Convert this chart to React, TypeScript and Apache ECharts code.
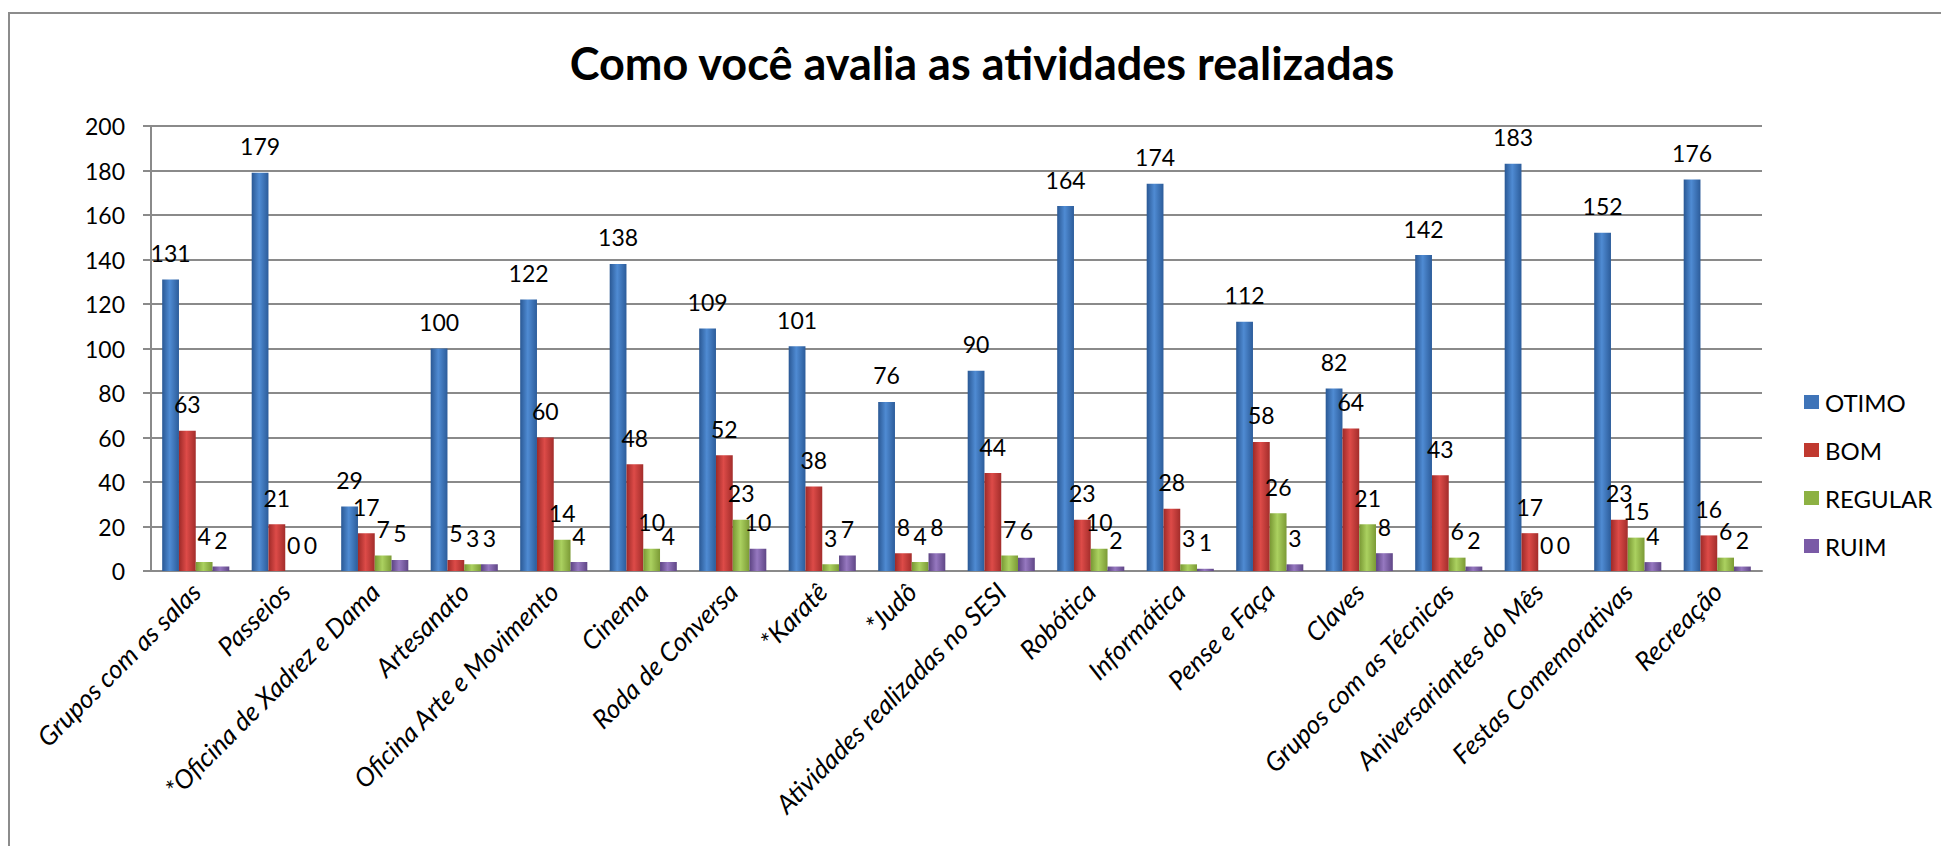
import React, { useEffect, useRef } from "react";
import * as echarts from "echarts";

const categories = [
  "Grupos com as salas",
  "Passeios",
  "*Oficina de Xadrez e Dama",
  "Artesanato",
  "Oficina Arte e Movimento",
  "Cinema",
  "Roda de Conversa",
  "*Karatê",
  "*Judô",
  "Atividades realizadas no SESI",
  "Robótica",
  "Informática",
  "Pense e Faça",
  "Claves",
  "Grupos com as Técnicas",
  "Aniversariantes do Mês",
  "Festas Comemorativas",
  "Recreação",
];

const otimo = [131, 179, 29, 100, 122, 138, 109, 101, 76, 90, 164, 174, 112, 82, 142, 183, 152, 176];
const bom = [63, 21, 17, 5, 60, 48, 52, 38, 8, 44, 23, 28, 58, 64, 43, 17, 23, 16];
const regular = [4, 0, 7, 3, 14, 10, 23, 3, 4, 7, 10, 3, 26, 21, 6, 0, 15, 6];
const ruim = [2, 0, 5, 3, 4, 4, 10, 7, 8, 6, 2, 1, 3, 8, 2, 0, 4, 2];

const seriesNames = ["OTIMO", "BOM", "REGULAR", "RUIM"];
const yTicks = { min: 0, max: 200, interval: 20 };
const titleText = "Como você avalia as atividades realizadas";

const FONT = "Lato, 'Open Sans', sans-serif";

function cyl(dark: string, light: string, dark2: string) {
  return new echarts.graphic.LinearGradient(0, 0, 1, 0, [
    { offset: 0, color: dark },
    { offset: 0.45, color: light },
    { offset: 1, color: dark2 },
  ]);
}

export default function App() {
  const ref = useRef<HTMLDivElement>(null);
  useEffect(() => {
    if (!ref.current) return;
    const chart = echarts.init(ref.current, undefined, { renderer: "svg" });
    const colors = [
      cyl("#2a5894", "#4f8bd3", "#2c5c9a"),
      cyl("#9e2a28", "#dd4b48", "#a32d2b"),
      cyl("#789733", "#abd160", "#7b9a35"),
      cyl("#5c4382", "#9678c0", "#5f4686"),
    ];
    const legendColors = ["#3f74b8", "#c0392f", "#8db143", "#7a5aa6"];
    const datasets = [otimo, bom, regular, ruim];
    const series = datasets.map((d, i) => ({
      name: seriesNames[i],
      type: "bar",
      data: d,
      barGap: "0%",
      barCategoryGap: "25%",
      itemStyle: { color: colors[i] },
      label: {
        show: true,
        position: "top",
        distance: 15,
        color: "#000",
        fontFamily: FONT,
        fontSize: 23,
      },
    }));
    chart.setOption({
      animation: false,
      backgroundColor: "#ffffff",
      title: {
        text: titleText,
        left: 982,
        top: 40,
        padding: 0,
        textAlign: "center",
        textStyle: {
          fontFamily: FONT,
          fontWeight: "bold",
          fontSize: 45,
          lineHeight: 45,
          color: "#000",
        },
      },
      legend: {
        orient: "vertical",
        left: 1804,
        top: 390,
        padding: 0,
        itemWidth: 15,
        itemHeight: 14,
        itemGap: 24,
        icon: "rect",
        data: seriesNames.map((n, i) => ({ name: n, itemStyle: { color: legendColors[i] } })),
        textStyle: { fontFamily: FONT, fontSize: 24, color: "#000", padding: [0, 0, 0, 1] },
      },
      grid: { left: 151, right: 179, top: 126, bottom: 275, containLabel: false },
      xAxis: {
        type: "category",
        data: categories,
        axisLine: { show: true, lineStyle: { color: "#8a8a8a", width: 2 } },
        axisTick: { show: false },
        axisLabel: {
          interval: 0,
          rotate: 45,
          margin: 16,
          fontFamily: FONT,
          fontStyle: "italic",
          fontSize: 26,
          color: "#000",
        },
      },
      yAxis: {
        type: "value",
        min: yTicks.min,
        max: yTicks.max,
        interval: yTicks.interval,
        axisLine: { show: true, lineStyle: { color: "#8a8a8a", width: 2 } },
        axisTick: { show: true, length: 8, lineStyle: { color: "#8a8a8a", width: 2 } },
        splitLine: { show: true, lineStyle: { color: "#8a8a8a", width: 2 } },
        axisLabel: { margin: 26, fontFamily: FONT, fontSize: 23, color: "#000" },
      },
      graphic: [
        {
          type: "rect",
          shape: { x: 9, y: 13, width: 2000, height: 1000 },
          style: { fill: "none", stroke: "#8c8c8c", lineWidth: 2 },
          silent: true,
          z: -1,
        },
      ],
      series,
    });
    return () => chart.dispose();
  }, []);
  return (
    <div
      ref={ref}
      style={{ position: "fixed", left: 0, top: 0, width: 1941, height: 846 }}
    />
  );
}
